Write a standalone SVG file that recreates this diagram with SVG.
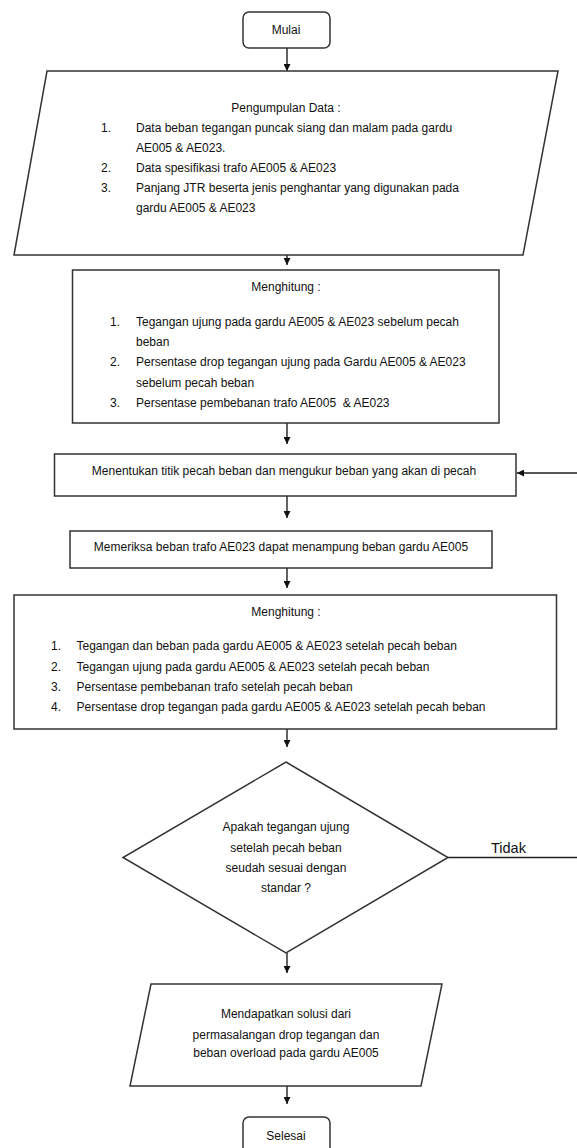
<svg xmlns="http://www.w3.org/2000/svg" width="577" height="1148" viewBox="0 0 577 1148">
<style>
.s{fill:#fff;stroke:#333;stroke-width:1.5}
.t{font-family:"Liberation Sans",Arial,sans-serif;font-size:12px;fill:#111}
.c{text-anchor:middle}
.e{fill:none;stroke:#222;stroke-width:1.4}
.lbl{font-family:"Liberation Sans",Arial,sans-serif;font-size:14.5px;fill:#111}
</style>
<defs>
<marker id="ah" markerUnits="userSpaceOnUse" viewBox="0 0 8 8" markerWidth="7" markerHeight="7" refX="8" refY="4" orient="auto">
<path d="M0,0 L8,4 L0,8 z" fill="#111"/>
</marker>
</defs>
<rect width="577" height="1148" fill="#fff"/>
<g id="connectors">
<line class="e" x1="287" y1="48" x2="287" y2="71" marker-end="url(#ah)"/>
<line class="e" x1="287" y1="255" x2="287" y2="265" marker-end="url(#ah)"/>
<line class="e" x1="287" y1="423" x2="287" y2="444" marker-end="url(#ah)"/>
<line class="e" x1="287" y1="496" x2="287" y2="518" marker-end="url(#ah)"/>
<line class="e" x1="287" y1="568" x2="287" y2="588" marker-end="url(#ah)"/>
<line class="e" x1="287" y1="729" x2="287" y2="747" marker-end="url(#ah)"/>
<line class="e" x1="287" y1="953" x2="287" y2="973" marker-end="url(#ah)"/>
<line class="e" x1="287" y1="1086" x2="287" y2="1104" marker-end="url(#ah)"/>
<path class="e" d="M448,857.5 H600 V473 H517" marker-end="url(#ah)"/>
<text class="lbl" x="491" y="853">Tidak</text>
</g>
<g id="mulai">
<rect class="s" x="243" y="12" width="87" height="36" rx="6"/>
<text class="t c" x="286" y="34">Mulai</text>
</g>
<g id="pengumpulan">
<polygon class="s" points="47,71 558,71 523,255 14,255"/>
<text class="t c" x="286" y="112">Pengumpulan Data :</text>
<text class="t" x="101" y="132">1.</text>
<text class="t" x="136" y="132">Data beban tegangan puncak siang dan malam pada gardu</text>
<text class="t" x="136" y="152">AE005 &amp; AE023.</text>
<text class="t" x="101" y="172">2.</text>
<text class="t" x="136" y="172">Data spesifikasi trafo AE005 &amp; AE023</text>
<text class="t" x="101" y="192">3.</text>
<text class="t" x="136" y="192">Panjang JTR beserta jenis penghantar yang digunakan pada</text>
<text class="t" x="136" y="212">gardu AE005 &amp; AE023</text>
</g>
<g id="menghitung1">
<rect class="s" x="72.5" y="270" width="426.5" height="153"/>
<text class="t c" x="286" y="291">Menghitung :</text>
<text class="t" x="110" y="326">1.</text>
<text class="t" x="136" y="326">Tegangan ujung pada gardu AE005 &amp; AE023 sebelum pecah</text>
<text class="t" x="136" y="346">beban</text>
<text class="t" x="110" y="366">2.</text>
<text class="t" x="136" y="366">Persentase drop tegangan ujung pada Gardu AE005 &amp; AE023</text>
<text class="t" x="136" y="387">sebelum pecah beban</text>
<text class="t" x="110" y="407">3.</text>
<text class="t" x="136" y="407" xml:space="preserve">Persentase pembebanan trafo AE005  &amp; AE023</text>
</g>
<g id="menentukan">
<rect class="s" x="54.5" y="454" width="461.5" height="42"/>
<text class="t c" x="284" y="475">Menentukan titik pecah beban dan mengukur beban yang akan di pecah</text>
</g>
<g id="memeriksa">
<rect class="s" x="70" y="531" width="422" height="37"/>
<text class="t c" x="281" y="551">Memeriksa beban trafo AE023 dapat menampung beban gardu AE005</text>
</g>
<g id="menghitung2">
<rect class="s" x="14" y="595" width="542.5" height="134"/>
<text class="t c" x="286" y="616">Menghitung :</text>
<text class="t" x="51" y="650">1.</text>
<text class="t" x="76.5" y="650">Tegangan dan beban pada gardu AE005 &amp; AE023 setelah pecah beban</text>
<text class="t" x="51" y="671">2.</text>
<text class="t" x="76.5" y="671">Tegangan ujung pada gardu AE005 &amp; AE023 setelah pecah beban</text>
<text class="t" x="51" y="691">3.</text>
<text class="t" x="76.5" y="691">Persentase pembebanan trafo setelah pecah beban</text>
<text class="t" x="51" y="711">4.</text>
<text class="t" x="76.5" y="711">Persentase drop tegangan pada gardu AE005 &amp; AE023 setelah pecah beban</text>
</g>
<g id="keputusan">
<polygon class="s" points="286,762 448,857.5 286,953 123,857.5"/>
<text class="t c" x="286" y="831">Apakah tegangan ujung</text>
<text class="t c" x="286" y="852">setelah pecah beban</text>
<text class="t c" x="286" y="872">seudah sesuai dengan</text>
<text class="t c" x="286" y="892">standar ?</text>
</g>
<g id="solusi">
<polygon class="s" points="151,984 442,984 421,1086 130,1086"/>
<text class="t c" x="286" y="1018">Mendapatkan solusi dari</text>
<text class="t c" x="286" y="1039">permasalangan drop tegangan dan</text>
<text class="t c" x="286" y="1057">beban overload pada gardu AE005</text>
</g>
<g id="selesai">
<rect class="s" x="243" y="1117" width="87" height="40" rx="6"/>
<text class="t c" x="286" y="1140">Selesai</text>
</g>
</svg>
